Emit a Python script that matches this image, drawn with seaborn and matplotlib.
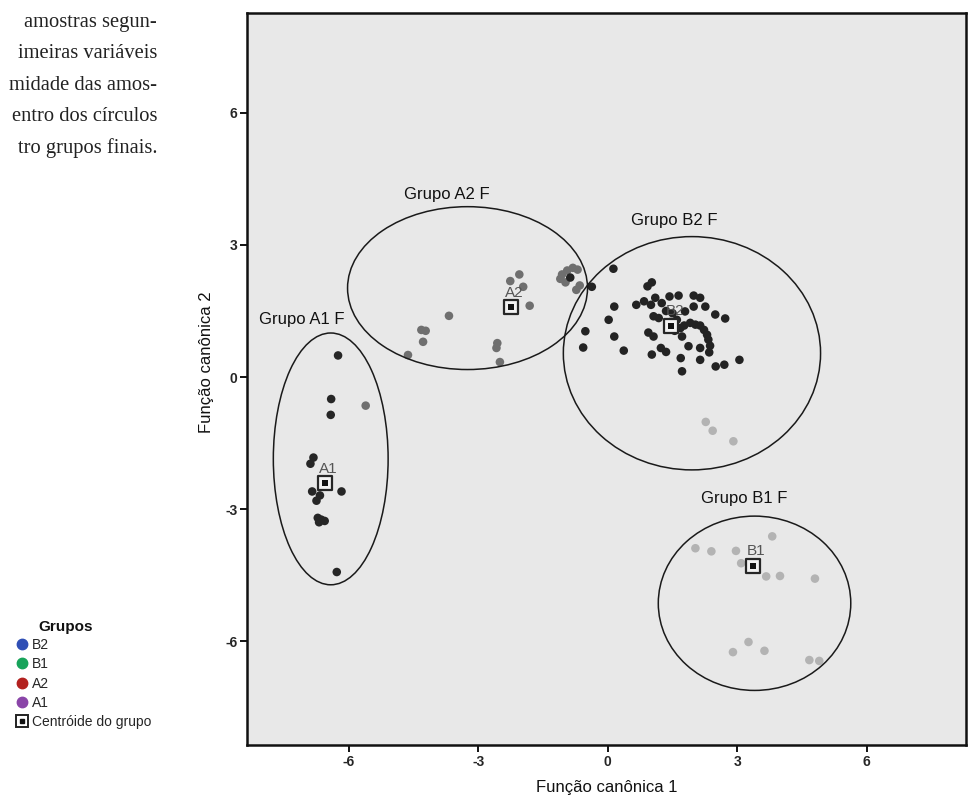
import matplotlib
matplotlib.use("Agg")
import matplotlib.pyplot as plt
from matplotlib import font_manager
from matplotlib.patches import Ellipse
from matplotlib.lines import Line2D
import seaborn as sns
import pandas as pd

# ---------------- data ----------------
groups = ["B2", "B1", "A2", "A1"]

a1_x = [-6.25, -6.41, -6.42, -6.82, -6.89, -6.85, -6.67, -6.75, -6.17, -6.72, -6.64, -6.56, -6.69, -6.28]
a1_y = [0.49, -0.50, -0.86, -1.83, -1.97, -2.60, -2.69, -2.81, -2.60, -3.20, -3.24, -3.27, -3.30, -4.43]

a2_x = [-5.61, -2.05, -2.26, -1.96, -1.81, -3.68, -4.32, -4.22, -4.28, -2.56, -2.58, -2.50, -4.63,
        -1.06, -0.94, -0.81, -0.70, -0.98, -0.65, -0.73, -1.10]
a2_y = [-0.65, 2.33, 2.18, 2.05, 1.62, 1.39, 1.07, 1.05, 0.80, 0.77, 0.66, 0.34, 0.50,
        2.33, 2.42, 2.48, 2.44, 2.15, 2.08, 1.98, 2.23]

b1_x = [2.27, 2.43, 2.91, 2.03, 2.40, 2.97, 3.09, 3.28, 3.81, 3.67, 3.99, 4.80, 3.26, 2.90, 3.63, 4.67, 4.90]
b1_y = [-1.02, -1.22, -1.46, -3.89, -3.96, -3.95, -4.23, -4.38, -3.62, -4.53, -4.52, -4.58, -6.02, -6.25, -6.22, -6.43, -6.45]

b2_x = [-0.87, -0.37, -0.52, -0.57, 0.02, 0.13, 1.02, 0.92, 0.66, 0.84, 1.00, 1.10, 1.25, 1.43, 1.64,
        1.99, 2.14, 1.99, 2.26, 2.49, 2.72, 0.15, 0.15, 0.37, 0.94, 1.06, 1.02, 1.23, 1.35, 1.06, 1.18,
        1.79, 1.68, 1.77, 1.91, 2.03, 2.14, 2.23, 2.30, 2.33, 2.37, 2.35, 1.72, 1.87, 2.14, 1.69, 2.14,
        1.72, 2.50, 2.70, 3.05, 1.35, 1.50, 1.60, 1.55, 1.45]
b2_y = [2.26, 2.05, 1.04, 0.67, 1.30, 2.46, 2.15, 2.06, 1.64, 1.72, 1.64, 1.80, 1.68, 1.83, 1.85,
        1.85, 1.80, 1.60, 1.60, 1.42, 1.33, 1.60, 0.92, 0.60, 1.01, 0.92, 0.51, 0.66, 0.57, 1.38, 1.34,
        1.49, 1.11, 1.17, 1.23, 1.19, 1.17, 1.07, 0.96, 0.85, 0.71, 0.56, 0.92, 0.70, 0.66, 0.43, 0.39,
        0.13, 0.24, 0.28, 0.39, 1.50, 1.45, 1.30, 1.05, 1.25]

centroid_names = ["A1", "A2", "B2", "B1"]
centroid_x = [-6.55, -2.24, 1.47, 3.36]
centroid_y = [-2.41, 1.58, 1.17, -4.29]

circle_labels = ["Grupo A1 F", "Grupo A2 F", "Grupo B2 F", "Grupo B1 F"]
circle_cx = [-6.42, -3.25, 1.95, 3.40]
circle_cy = [-1.86, 2.02, 0.54, -5.14]
circle_w = [2.66, 5.56, 5.96, 4.46]
circle_h = [5.72, 3.70, 5.30, 3.96]
circle_label_x = [-7.10, -3.73, 1.54, 3.17]
circle_label_y = [1.30, 4.14, 3.55, -2.75]

axis_ticks = [-6, -3, 0, 3, 6]

caption_lines = ["amostras segun-", "imeiras variáveis", "midade das amos-",
                 "entro dos círculos", "tro grupos finais."]

# ---------------- styling ----------------
sns.set_theme(style="white")
available = {f.name for f in font_manager.fontManager.ttflist}
narrow = "Liberation Sans Narrow" if "Liberation Sans Narrow" in available else "Liberation Sans"
plt.rcParams["font.family"] = ["Liberation Sans", "DejaVu Sans"]

point_palette = {"A2": "#6f6f6f", "B1": "#b3b3b3", "A1": "#262626", "B2": "#232323"}
legend_colors = {"B2": "#2f4fb5", "B1": "#17a35a", "A2": "#b3211f", "A1": "#8a45a8"}

rows = []
for g, xs, ys in [("A2", a2_x, a2_y), ("B1", b1_x, b1_y), ("A1", a1_x, a1_y), ("B2", b2_x, b2_y)]:
    for x, y in zip(xs, ys):
        rows.append({"f1": x, "f2": y, "grupo": g})
df = pd.DataFrame(rows)

W, H = 969, 798
fig = plt.figure(figsize=(W / 100, H / 100), dpi=100)
fig.patch.set_facecolor("white")
ax = fig.add_axes([247 / W, 1 - 745 / H, (966 - 247) / W, (745 - 13) / H])
ax.set_facecolor("#e8e8e8")

sns.scatterplot(data=df, x="f1", y="f2", hue="grupo", palette=point_palette,
                s=38, linewidth=0, legend=False, ax=ax, zorder=3)

for cx, cy, w, h in zip(circle_cx, circle_cy, circle_w, circle_h):
    ax.add_patch(Ellipse((cx, cy), w, h, fill=False, edgecolor="#1a1a1a", linewidth=1.1, zorder=4))
for lab, lx, ly in zip(circle_labels, circle_label_x, circle_label_y):
    ax.text(lx, ly, lab, ha="center", va="center", fontsize=12, color="#111111", zorder=6)

sns.scatterplot(x=centroid_x, y=centroid_y, marker="s", s=95, color="#f2f2f2",
                edgecolor="#262626", linewidth=1.6, ax=ax, zorder=5, legend=False)
sns.scatterplot(x=centroid_x, y=centroid_y, marker="s", s=16, color="#111111",
                linewidth=0, ax=ax, zorder=6, legend=False)
for name, cx, cy in zip(centroid_names, centroid_x, centroid_y):
    ax.annotate(name, (cx, cy), xytext=(2.5, 10.5), textcoords="offset points",
                ha="center", va="center", fontsize=11, color="#555555", zorder=7)

ax.set_xlim(-8.36, 8.3)
ax.set_ylim(-8.36, 8.27)
ax.set_xticks(axis_ticks)
ax.set_yticks(axis_ticks)
ax.set_xticklabels([str(t) for t in axis_ticks], fontweight="bold", fontsize=10, family=narrow)
ax.set_yticklabels([str(t) for t in axis_ticks], fontweight="bold", fontsize=10, family=narrow)
ax.tick_params(axis="both", which="major", direction="out", length=5, width=1.4,
               color="#111111", bottom=True, left=True, pad=2)
for sp in ax.spines.values():
    sp.set_visible(True)
    sp.set_color("#111111")
    sp.set_linewidth(1.8)
ax.set_xlabel("Função canônica 1", fontsize=12, family=narrow, labelpad=8, color="#111111")
ax.set_ylabel("Função canônica 2", fontsize=12, family=narrow, color="#111111")
ax.yaxis.set_label_coords(-0.046, (745 - 362) / 732)

# caption fragment (cropped article text)
for i, line in enumerate(caption_lines):
    fig.text(157 / W, 1 - (22 + 31.6 * i) / H, line, ha="right", va="center",
             fontsize=14.8, family=["Liberation Serif", "DejaVu Serif"], color="#222222")

# legend
fig.text(38 / W, 1 - 627 / H, "Grupos", ha="left", va="center", fontsize=11,
         fontweight="bold", color="#111111")
handles = [Line2D([], [], marker="o", ls="", markersize=7.5, markerfacecolor=legend_colors[g],
                  markeredgecolor=legend_colors[g]) for g in groups]
outer = Line2D([], [], marker="s", ls="", markersize=9, markerfacecolor="white",
               markeredgecolor="#222222", markeredgewidth=1.4)
inner = Line2D([], [], marker="s", ls="", markersize=3.5, markerfacecolor="#111111",
               markeredgecolor="#111111")
handles.append((outer, inner))
labels = groups + ["Centróide do grupo"]
fig.legend(handles, labels, loc="upper left", bbox_to_anchor=(16 / W, 1 - 638 / H),
           frameon=False, fontsize=10, handlelength=0.9, handletextpad=0.25,
           labelspacing=0.38, borderpad=0, borderaxespad=0)

fig.savefig("out.png", dpi=100, facecolor="white")
